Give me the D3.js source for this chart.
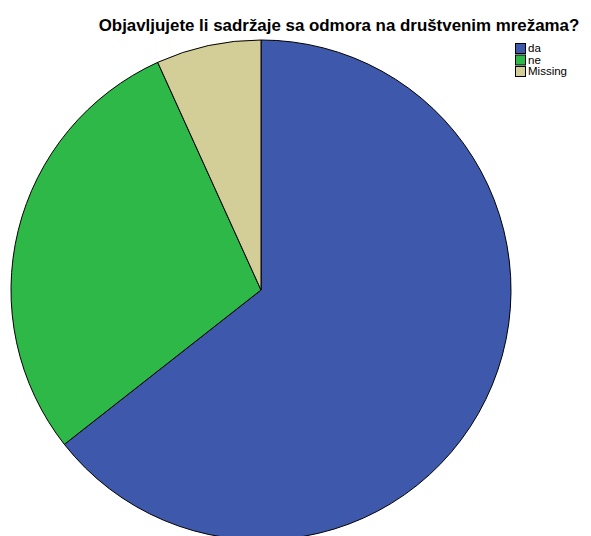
<!DOCTYPE html>
<html><head><meta charset="utf-8">
<script src="https://cdn.jsdelivr.net/npm/d3@7"></script>
<style>body{margin:0;background:#fff;}svg{display:block;}</style>
</head><body>
<script>
const categories = ["da", "ne", "Missing"];
const counts = [38, 17, 4];
const colors = ["#3E58AC", "#2EB848", "#D3CE97"];
const title = "Objavljujete li sadržaje sa odmora na društvenim mrežama?";

const W = 591, H = 536;
const svg = d3.select("body").append("svg").attr("width", W).attr("height", H);

const cx = 261, cy = 290, r = 250;
const data = categories.map((c, i) => ({cat: c, v: counts[i], col: colors[i]}));
const pie = d3.pie().sort(null).value(d => d.v);
const arc = d3.arc().innerRadius(0).outerRadius(r);

svg.append("g").attr("transform", `translate(${cx},${cy})`)
  .selectAll("path").data(pie(data)).join("path")
  .attr("d", arc).attr("fill", d => d.data.col)
  .attr("stroke", "#000").attr("stroke-width", 1);

svg.append("text").attr("x", 339).attr("y", 31).attr("text-anchor", "middle")
  .attr("font-family", "Liberation Sans, Arial, sans-serif").attr("font-weight", "bold")
  .attr("font-size", 16.9).attr("fill", "#000").text(title);

const lg = svg.append("g").attr("transform", "translate(515,43)");
data.forEach((d, i) => {
  const g = lg.append("g").attr("transform", `translate(0,${i * 11.5})`);
  g.append("rect").attr("x", 0.5).attr("y", 0.5).attr("width", 10).attr("height", 10)
    .attr("fill", d.col).attr("stroke", "#000").attr("stroke-width", 1);
  g.append("text").attr("x", 13).attr("y", 9).attr("font-family", "Liberation Sans, Arial, sans-serif")
    .attr("font-size", 11.5).attr("fill", "#000").text(d.cat);
});
</script>
</body></html>
